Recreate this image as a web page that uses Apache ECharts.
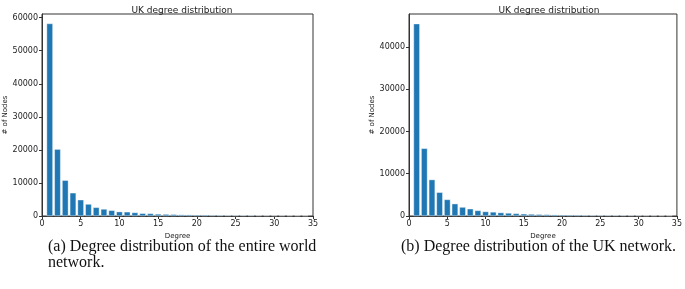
<!DOCTYPE html>
<html>
<head>
<meta charset="utf-8">
<script src="https://cdn.jsdelivr.net/npm/echarts@6/dist/echarts.min.js"></script>
<style>
html,body{margin:0;padding:0;background:#fff;}
#chart{width:685px;height:289px;}
</style>
</head>
<body>
<div id="chart"></div>
<script>
// degree 1..34
var degrees = [];
for (var i = 1; i <= 34; i++) degrees.push(i);
// (a) whole world network
var worldCounts = [58200, 20200, 10800, 7000, 4900, 3600, 2600, 2100, 1700, 1300,
  1250, 1050, 800, 750, 600, 550, 500, 400, 380, 350,
  330, 280, 250, 230, 220, 200, 190, 180, 170, 160,
  150, 140, 130, 120];
// (b) UK network
var ukCounts = [45500, 16000, 8600, 5600, 3900, 2900, 2100, 1700, 1300, 1050,
  950, 800, 700, 600, 500, 450, 400, 350, 300, 280,
  260, 240, 200, 190, 180, 170, 160, 150, 140, 130,
  120, 110, 100, 100];
var xTicks = [0, 5, 10, 15, 20, 25, 30, 35];
var titleText = 'UK degree distribution';
var captionA = ['(a) Degree distribution of the entire world', 'network.'];
var captionB = '(b) Degree distribution of the UK network.';

function pairs(vals){
  var out = [];
  for (var i = 0; i < vals.length; i++) out.push([degrees[i], vals[i]]);
  return out;
}

var txt = '#222';
function xAxisCfg(idx){
  return {
    gridIndex: idx, type: 'value', min: xTicks[0], max: xTicks[xTicks.length - 1], interval: 5,
    name: 'Degree', nameLocation: 'middle', nameGap: 17,
    nameTextStyle: {fontSize: 7, color: txt, fontFamily: 'DejaVu Sans'},
    axisLine: {show: true, lineStyle: {color: '#333', width: 1}},
    axisTick: {show: true, length: 3, lineStyle: {color: '#333'}},
    axisLabel: {fontSize: 8, color: txt, margin: 4, fontFamily: 'DejaVu Sans'},
    splitLine: {show: false}
  };
}
function yAxisCfg(idx, max, gap){
  return {
    gridIndex: idx, type: 'value', min: 0, max: max, interval: 10000,
    name: '# of Nodes', nameLocation: 'middle', nameGap: gap, nameRotate: 90,
    nameTextStyle: {fontSize: 7, color: txt, fontFamily: 'DejaVu Sans'},
    axisLine: {show: true, lineStyle: {color: '#333', width: 1}},
    axisTick: {show: true, length: 3, lineStyle: {color: '#333'}},
    axisLabel: {fontSize: 8, color: txt, margin: 4, showMaxLabel: false, fontFamily: 'DejaVu Sans',
      formatter: function(v){ return String(v); }},
    splitLine: {show: false}
  };
}
function barSeries(idx, vals){
  return {
    type: 'bar', xAxisIndex: idx, yAxisIndex: idx,
    data: pairs(vals), barWidth: 6.2,
    itemStyle: {color: '#1f77b4', borderColor: '#fff', borderWidth: 0.4},
    silent: true
  };
}

var chart = echarts.init(document.getElementById('chart'), null, {renderer: 'canvas'});
chart.setOption({
  animation: false,
  title: [
    {text: titleText, left: 177, top: 1, textAlign: 'center',
     textStyle: {fontSize: 9, fontWeight: 'normal', color: txt, fontFamily: 'DejaVu Sans'}},
    {text: titleText, left: 544, top: 1, textAlign: 'center',
     textStyle: {fontSize: 9, fontWeight: 'normal', color: txt, fontFamily: 'DejaVu Sans'}}
  ],
  grid: [
    {left: 42, top: 14, width: 271, height: 202, show: true, borderColor: '#333', borderWidth: 1},
    {left: 409, top: 14, width: 270, height: 202, show: true, borderColor: '#333', borderWidth: 1}
  ],
  xAxis: [xAxisCfg(0), xAxisCfg(1)],
  yAxis: [yAxisCfg(0, 61100, 31), yAxisCfg(1, 47800, 30)],
  series: [barSeries(0, worldCounts), barSeries(1, ukCounts)],
  graphic: [
    {type: 'text', left: 48, top: 239, style: {text: captionA[0], fontSize: 16, fill: '#111', fontFamily: 'Liberation Serif'}},
    {type: 'text', left: 48, top: 255, style: {text: captionA[1], fontSize: 16, fill: '#111', fontFamily: 'Liberation Serif'}},
    {type: 'text', left: 401, top: 239, style: {text: captionB, fontSize: 16, fill: '#111', fontFamily: 'Liberation Serif'}}
  ]
});
</script>
</body>
</html>
